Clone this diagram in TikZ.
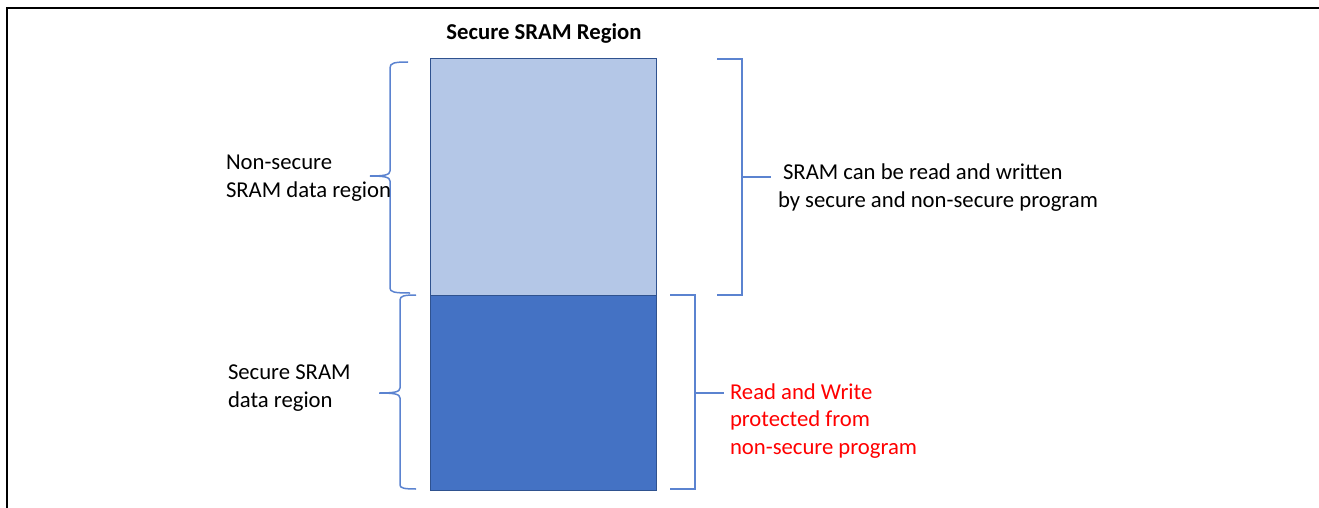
\documentclass[tikz,border=0pt]{standalone}
\usepackage{fontspec}
\setmainfont{Carlito}
\definecolor{lightblue}{HTML}{B4C7E7}
\definecolor{darkblue}{HTML}{4472C4}
\definecolor{edgeblue}{HTML}{2F528F}
\definecolor{bracecol}{HTML}{5B83D0}
\begin{document}
\begin{tikzpicture}[x=1pt,y=-1pt,
  every node/.style={inner sep=0pt, outer sep=0pt, font=\fontsize{22.7}{27.5}\selectfont},
  region/.style={draw=edgeblue, line width=1pt, minimum width=226.5pt, anchor=north west},
  bracket/.style={draw=bracecol, line width=1.5pt},
  lbl/.style={anchor=base west, align=left},
  redlbl/.style={lbl, text=red}]
\useasboundingbox (0,0) rectangle (1319,508);
% frame
\draw[line width=2.2pt] (7,508) -- (7,8) -- (1319,8);
% title
\node[anchor=base, font=\fontsize{22.7}{27.5}\selectfont\bfseries] (title) at (544,40) {Secure SRAM Region};
% regions
\node[region, fill=lightblue, minimum height=236pt] (ns) at (430,59) {};
\node[region, fill=darkblue, minimum height=195pt] (sec) at (430,295) {};
% left braces
\draw[bracket] (408,62) .. controls (394,62) and (390,63) .. (390,68) -- (390,171)
  .. controls (390,175) and (384,176) .. (370,176)
  .. controls (384,176) and (390,177) .. (390,181) -- (390,288)
  .. controls (390,292) and (394,293) .. (410,293);
\draw[bracket] (416,295) .. controls (404,295) and (400,296) .. (400,300) -- (400,388)
  .. controls (400,392) and (394,393) .. (379,393)
  .. controls (394,393) and (400,394) .. (400,398) -- (400,485)
  .. controls (400,488) and (404,489) .. (416,489);
% right brackets
\draw[bracket] (717,59) -- (742,59) -- (742,295) -- (717,295);
\draw[bracket] (742,177) -- (771,177);
\draw[bracket] (670,295) -- (695,295) -- (695,489) -- (670,489);
\draw[bracket] (695,393) -- (724,393);
% labels (base anchor = baseline of last line)
\node[lbl] (nslbl) at (226,197) {Non-secure\\SRAM data region};
\node[lbl] (seclbl) at (228,407) {Secure SRAM\\data region};
\node[lbl] (rw1) at (783,179) {SRAM can be read and written};
\node[lbl] (rw2) at (778,207) {by secure and non-secure program};
\node[redlbl] (prot) at (730,454) {Read and Write\\protected from\\non-secure program};
\end{tikzpicture}
\end{document}
